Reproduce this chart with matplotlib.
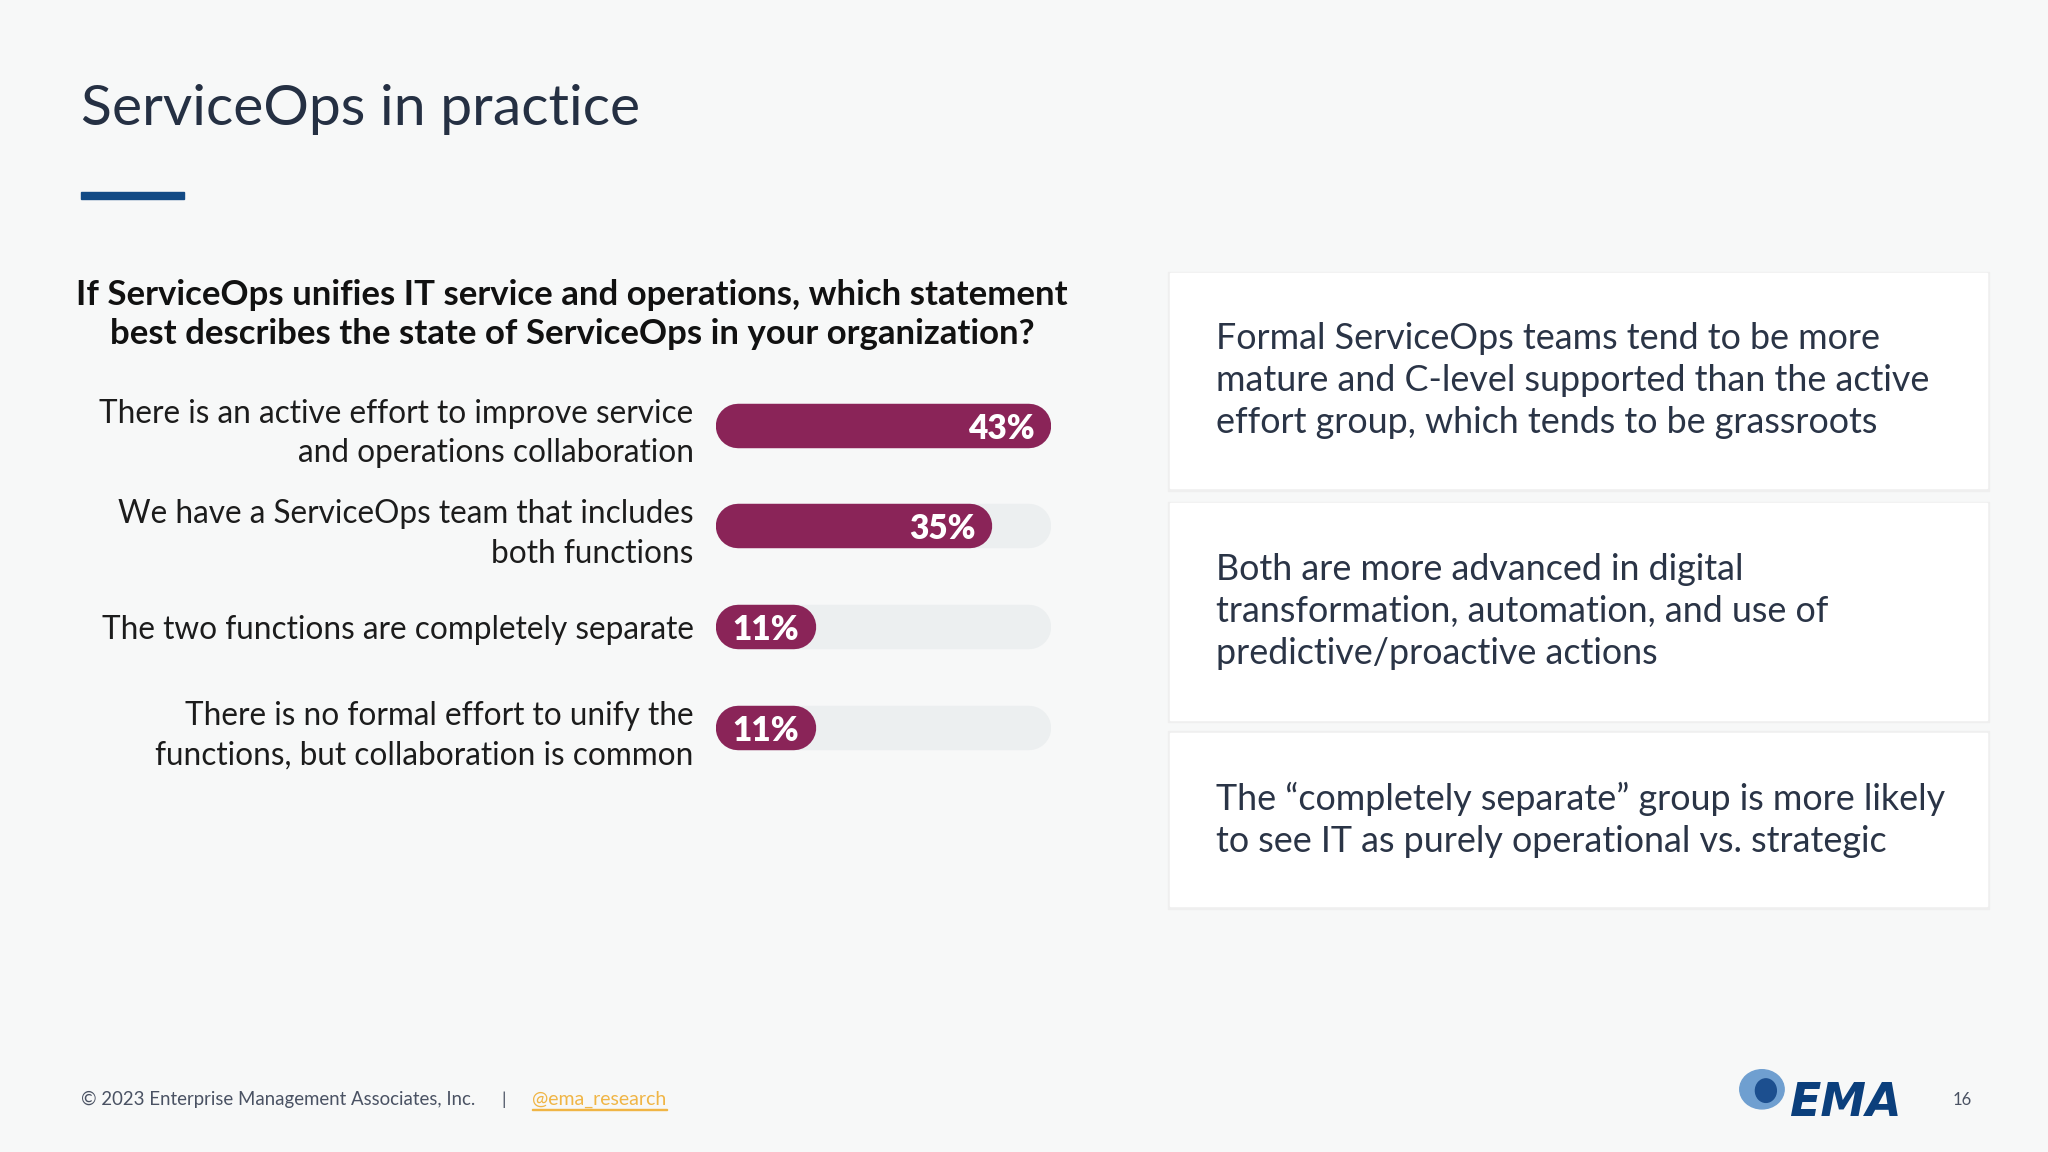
import matplotlib.pyplot as plt
from matplotlib.patches import Rectangle, Ellipse

# data
labels = ["There is an active effort to improve service\nand operations collaboration",
          "We have a ServiceOps team that includes\nboth functions",
          "The two functions are completely separate",
          "There is no formal effort to unify the\nfunctions, but collaboration is common"]
values = [43, 35, 11, 11]
notes = ["Formal ServiceOps teams tend to be more\nmature and C-level supported than the active\neffort group, which tends to be grassroots",
         "Both are more advanced in digital\ntransformation, automation, and use of\npredictive/proactive actions",
         "The \u201ccompletely separate\u201d group is more likely\nto see IT as purely operational vs. strategic"]
title = "ServiceOps in practice"
question = "If ServiceOps unifies IT service and operations, which statement\nbest describes the state of ServiceOps in your organization?"

W, H = 1568, 882  # layout grid of the slide
def fx(x): return x / W
def fy(y): return 1 - y / H

bg = "#f7f8f8"
maroon = "#8a2458"
track = "#eceff0"
ink = "#253043"

fig = plt.figure(figsize=(20.48, 11.52), dpi=100, facecolor=bg)

fig.text(fx(62), fy(96), title, fontsize=41, family="Lato", weight="normal",
         color=ink, va="baseline")
fig.add_artist(Rectangle((fx(62), fy(152)), fx(79), 5 / H, transform=fig.transFigure,
                         color="#124a85"))

fig.text(fx(438), fy(241), question, fontsize=25, family="Lato", weight="bold",
         ha="center", va="center", linespacing=1.27, color="#111111")

# bars
ax = fig.add_axes([fx(548), fy(595.5), fx(257), 308 / H])
ax.set_facecolor("none")
x0 = -2.67
r = 3.02
for i, v in enumerate(values):
    ax.plot([x0 + r, 43 - r], [i, i], lw=32, color=track, solid_capstyle="round")
    ax.plot([x0 + r, v - r], [i, i], lw=32, color=maroon, solid_capstyle="round")
    ax.text(v - 2.3, i, f"{v}%", ha="right", va="center_baseline", color="white",
            fontsize=24, family="Lato", weight="heavy")
ax.set_xlim(x0, 43)
ax.set_ylim(3.5, -0.5)
ax.set_yticks(range(len(labels)))
ax.set_yticklabels(labels, fontsize=22.7, family="Lato", color="#1c1c1c", linespacing=1.4)
ax.tick_params(axis="y", length=0, pad=16)
ax.set_xticks([])
for s in ax.spines.values():
    s.set_visible(False)

# note boxes
boxes = [(209, 374), (385, 551), (561, 694)]
for (top, bot), note in zip(boxes, notes):
    fig.add_artist(Rectangle((fx(894), fy(bot + 2)), fx(629), (bot - top + 3) / H,
                             transform=fig.transFigure, color="#efefef", zorder=1))
    fig.add_artist(Rectangle((fx(896), fy(bot)), fx(625), (bot - top) / H,
                             transform=fig.transFigure, color="white", zorder=2))
    fig.text(fx(931), fy((top + bot) / 2), note, fontsize=25.8, family="Lato",
             weight="normal", color="#2a3446", va="center", linespacing=1.34, zorder=3)

# footer
foot = "#4a5263"
fig.text(fx(62), fy(842), "\u00a9 2023 Enterprise Management Associates, Inc.", fontsize=13.4,
         family="Lato", color=foot, va="center")
fig.text(fx(384), fy(842), "|", fontsize=13, family="Lato", color=foot, va="center")
fig.text(fx(407), fy(842), "@ema_research", fontsize=14, family="Lato", color="#f0b545",
         va="center")
fig.add_artist(Rectangle((fx(407), fy(850)), fx(104), 1.2 / H, transform=fig.transFigure,
                         color="#f0b545"))
fig.text(fx(1502), fy(842), "16", fontsize=12, family="Lato", color=foot,
         va="center", ha="center")
fig.add_artist(Ellipse((fx(1349), fy(834)), fx(34), 30 / H, transform=fig.transFigure,
                       color="#6f9fd0"))
fig.add_artist(Ellipse((fx(1352), fy(835)), fx(16), 18 / H, transform=fig.transFigure,
                       color="#1c4f8f"))
fig.text(fx(1413), fy(845), "EMA", fontsize=33, family="DejaVu Sans", weight="bold",
         style="italic", color="#0b3f7c", ha="center", va="center")

fig.savefig("out.png", dpi=100, facecolor=bg)
